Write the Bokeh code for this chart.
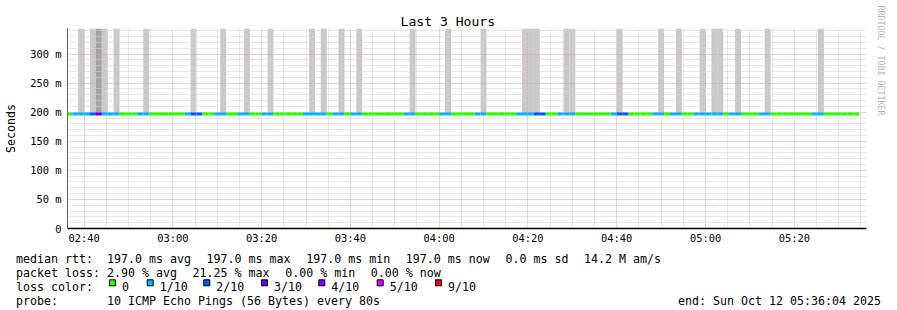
import re
import pandas as pd
from bokeh.plotting import figure
from bokeh.models import Range1d, FixedTicker, Label, DatetimeTickFormatter, Title
from bokeh.embed import file_html
from bokeh.resources import INLINE

# ---------------- data ----------------
chart_title = "Last 3 Hours"
y_axis_title = "Seconds"
watermark = "RRDTOOL / TOBI OETIKER"
view_start = "2025-10-12 02:36:16"
view_end = "2025-10-12 05:36:16"
first_step = "2025-10-12 02:36:00"
step_seconds = 80

# packet loss per 80 s step, in tenths (0..10)
loss_tenths = [
    0,
    1, 1, 1, 2, 3, 1, 1, 1, 0, 0, 0, 1, 1, 0, 0, 0, 0, 0, 0, 1, 2, 2, 0, 0, 1, 1, 0, 0, 1, 1, 0, 0, 1, 1,
    0, 0, 0, 0, 0, 1, 1, 1, 1, 0, 1, 1, 0, 1, 1, 0, 0, 0, 0, 0, 0, 0, 1, 1, 0, 0, 0, 0, 1, 1, 0, 0, 0, 0, 1, 1,
    0, 0, 0, 0, 0, 1, 1, 1, 2, 2, 0, 0, 1, 1, 1, 0, 0, 0, 0, 0, 0, 1, 2, 2, 0, 0, 0, 0, 1, 1, 0, 1, 1, 0, 0,
    1, 1, 1, 1, 1, 0, 1, 1, 0, 0, 0, 1, 1, 0, 0, 0, 0, 0, 0, 0, 1, 1, 0, 0, 0, 0, 0, 0,
]
# smoke density per step (0 none, 1 light, 2 dark)
smoke_level = [
    0,
    0, 1, 0, 1, 2, 1, 0, 1, 0, 0, 0, 0, 1, 0, 0, 0, 0, 0, 0, 0, 1, 0, 0, 0, 0, 1, 0, 0, 0, 1, 0, 0, 0, 1,
    0, 0, 0, 0, 0, 0, 1, 0, 1, 0, 0, 1, 0, 0, 1, 0, 0, 0, 0, 0, 0, 0, 0, 1, 0, 0, 0, 0, 0, 1, 0, 0, 0, 0, 0, 1,
    0, 0, 0, 0, 0, 0, 1, 1, 1, 0, 0, 0, 0, 1, 1, 0, 0, 0, 0, 0, 0, 0, 1, 0, 0, 0, 0, 0, 0, 1, 0, 0, 1, 0, 0,
    0, 1, 0, 1, 1, 0, 0, 1, 0, 0, 0, 0, 1, 0, 0, 0, 0, 0, 0, 0, 0, 1, 0, 0, 0, 0, 0, 0,
]
median_rtt_ms = [197.0] * len(loss_tenths)

x_tick_labels = ["02:40", "03:00", "03:20", "03:40", "04:00", "04:20", "04:40", "05:00", "05:20"]
x_date = "2025-10-12"
y_tick_values = [0, 50, 100, 150, 200, 250, 300]
y_tick_labels = ["0", "50 m", "100 m", "150 m", "200 m", "250 m", "300 m"]
y_max_ms = 344.0

loss_color_map = {0: "#26ff00", 1: "#00b8ff", 2: "#0059ff", 3: "#5e00ff",
                  4: "#7e00ff", 5: "#dd00ff", 9: "#ff0000"}
loss_legend_labels = ["0", "1/10", "2/10", "3/10", "4/10", "5/10", "9/10"]
loss_legend_keys = [0, 1, 2, 3, 4, 5, 9]

row_rtt = ["median rtt:  197.0 ms avg", "197.0 ms max", "197.0 ms min",
           "197.0 ms now", "0.0 ms sd", "14.2 M am/s"]
row_loss = ["packet loss: 2.90 % avg", "21.25 % max", "0.00 % min", "0.00 % now"]
row_probe = ["probe:       10 ICMP Echo Pings (56 Bytes) every 80s"]
end_text = "end: Sun Oct 12 05:36:04 2025"

# ---------------- layout constants ----------------
W = 897
MAIN_H = 248
LEG_H = 310 - MAIN_H
FL, FR, FT, FB = 67, 867, 28, 228
MONO = "DejaVu Sans Mono"
LEG_FS = 11.63
CHAR_W = 7.0
GAP = 15.6
smoke_colors = {1: "#c9c9c9", 2: "#a2a2a2"}

EPOCH = pd.Timestamp("1970-01-01")


def ms(ts):
    return (pd.Timestamp(ts) - EPOCH) / pd.Timedelta(milliseconds=1)


x0, x1 = ms(view_start), ms(view_end)

# ---------------- main figure ----------------
p = figure(width=W, height=MAIN_H, x_axis_type="datetime",
           x_range=Range1d(x0, x1), y_range=Range1d(0, y_max_ms),
           output_backend="svg", toolbar_location=None, title=None,
           min_border_left=FL, min_border_right=W - FR,
           min_border_top=FT, min_border_bottom=MAIN_H - FB,
           background_fill_color="white", border_fill_color="white",
           outline_line_color=None)

n = len(loss_tenths)
step_ms = step_seconds * 1000.0
s0 = ms(first_step)
lefts = [s0 + i * step_ms for i in range(n)]
rights = [l + step_ms for l in lefts]

# smoke
idx = [i for i in range(n) if smoke_level[i] > 0]
p.quad(left=[lefts[i] for i in idx], right=[rights[i] for i in idx],
       bottom=[median_rtt_ms[i] for i in idx], top=[y_max_ms] * len(idx),
       fill_color=[smoke_colors[smoke_level[i]] for i in idx],
       line_color=None, level="image")

# median line coloured by loss
p.segment(x0=lefts, y0=median_rtt_ms, x1=rights, y1=median_rtt_ms,
          line_color=[loss_color_map[v] for v in loss_tenths],
          line_width=3, line_cap="butt")

# ticks & grid
x_major = [ms(f"{x_date} {t}") for t in x_tick_labels]
five_min = 5 * 60 * 1000.0
x_minor = []
t = x_major[0]
while t <= x1:
    if t not in x_major:
        x_minor.append(t)
    t += five_min
xticker = FixedTicker(ticks=x_major, minor_ticks=x_minor)
p.xaxis.ticker = xticker
p.xgrid.ticker = xticker
p.xaxis.formatter = DatetimeTickFormatter(minutes="%H:%M", hourmin="%H:%M", hours="%H:%M",
                                          minsec="%H:%M", seconds="%H:%M")

y_minor = [v for v in range(0, int(y_max_ms) + 1, 10) if v not in y_tick_values]
yticker = FixedTicker(ticks=y_tick_values, minor_ticks=y_minor)
p.yaxis.ticker = yticker
p.ygrid.ticker = yticker
p.yaxis.major_label_overrides = {v: lab for v, lab in zip(y_tick_values, y_tick_labels)}

for g in (p.xgrid, p.ygrid):
    g.grid_line_color = "#e8a0a0"
    g.grid_line_dash = "1 1"
    g.grid_line_width = 1
    g.minor_grid_line_color = "#cfcfcf"
    g.minor_grid_line_dash = "1 1"
    g.minor_grid_line_width = 1

for ax in (p.xaxis, p.yaxis):
    ax.major_tick_out = 0
    ax.major_tick_in = 0
    ax.minor_tick_out = 0
    ax.minor_tick_in = 0
    ax.major_label_text_font = MONO
    ax.major_label_text_font_size = "10.4px"
    ax.major_label_text_color = "black"

p.yaxis.axis_line_color = "#606060"
p.yaxis.axis_line_width = 1
p.yaxis.major_label_standoff = 6
p.yaxis.axis_label = y_axis_title
p.yaxis.axis_label_standoff = 9
p.yaxis.axis_label_text_font = MONO
p.yaxis.axis_label_text_font_size = f"{LEG_FS}px"
p.yaxis.axis_label_text_font_style = "normal"
p.yaxis.axis_label_text_color = "black"
p.xaxis.axis_line_color = "black"
p.xaxis.axis_line_width = 1.6
p.xaxis.major_label_standoff = 3

p.add_layout(Title(text=chart_title, align="left", offset=333, standoff=0,
                   vertical_align="bottom", text_font=MONO, text_font_size="13.1px",
                   text_font_style="normal", text_color="black"), "above")
p.add_layout(Title(text=watermark, align="left", standoff=19, offset=-23,
                   text_font=MONO, text_font_size="8.3px",
                   text_font_style="normal", text_color="#b4b4b4"), "right")

# ---------------- legend figure (separate root, frame = whole canvas) ----------------
lg = figure(width=W, height=LEG_H, x_range=Range1d(0, W), y_range=Range1d(310, MAIN_H),
            output_backend="svg", toolbar_location=None, title=None,
            x_axis_location=None, y_axis_location=None, min_border=0,
            min_border_left=0, min_border_right=0, min_border_top=0, min_border_bottom=0,
            background_fill_color="white", border_fill_color="white",
            outline_line_color=None)
lg.grid.visible = False

TX0 = 15.5


def add_text(fig, x, y, text, align="left"):
    fig.add_layout(Label(x=x, y=y, text=text, text_font=MONO,
                         text_font_size=f"{LEG_FS}px", text_align=align,
                         text_baseline="alphabetic", text_color="black"))


def layout_row(fig, entries, y):
    x = TX0
    for e in entries:
        for m in re.finditer(r"\S+(?: \S+)*", e):
            add_text(fig, x + m.start() * CHAR_W, y, m.group())
        x += len(e) * CHAR_W + GAP


layout_row(lg, row_rtt, 258.6)
layout_row(lg, row_loss, 272.4)
add_text(lg, TX0, 286.2, "loss color:")
box_x = [112, 149.7, 206.3, 264, 321.3, 379.7, 438]
lg.rect(x=box_x, y=[282.3] * len(box_x), width=6, height=6,
        fill_color=[loss_color_map[k] for k in loss_legend_keys],
        line_color="black", line_width=1)
for bx, lab in zip(box_x, loss_legend_labels):
    add_text(lg, bx + 9.5, 286.2, lab)
layout_row(lg, row_probe, 300.0)
add_text(lg, 880.5, 300.0, end_text, align="right")

open("out.html", "w").write(file_html([p, lg], INLINE))
